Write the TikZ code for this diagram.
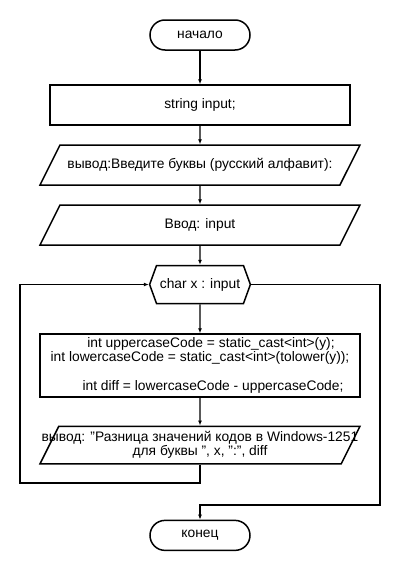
\documentclass[tikz,border=0pt]{standalone}
\usepackage{fontspec}
\setmainfont{Liberation Sans}
\usetikzlibrary{positioning, arrows.meta, shapes.geometric, shapes.symbols}

\begin{document}
\begin{tikzpicture}[x=1pt, y=-1pt,
  every node/.style={align=center, font=\fontsize{13.8}{15}\selectfont},
  arrow/.style={-{Latex[length=5pt,width=4pt]}, line width=1.2pt},
  term/.style={draw, line width=1.5pt, rounded corners=15pt, minimum width=100pt, minimum height=30pt},
  proc/.style={draw, line width=1.5pt, minimum width=300pt, minimum height=40pt},
  io/.style={draw, line width=1.5pt, trapezium, trapezium left angle=63.4, trapezium right angle=116.6,
    trapezium stretches body=true, minimum width=320pt, inner xsep=0pt,
    text height=10pt, text depth=3.5pt, inner ysep=13.25pt},
  loopbox/.style={draw, line width=1.5pt, signal, signal to=west and east, signal pointer angle=140,
    minimum width=100pt, minimum height=38pt}
]
\useasboundingbox (0,0) rectangle (400,570);

\node[term] (start) at (200,35) {начало};
\node[proc, below=33.5pt of start] (init) {string input;};
\node[io, below=18.5pt of init] (out1) {вывод:Введите буквы (русский алфавит):};
\node[io, below=18.5pt of out1] (in1) {Ввод: input};
\node[loopbox, below=19pt of in1] (loop) {char x : input};
\node[proc, below=29pt of loop, minimum width=320pt, minimum height=61pt, font=\fontsize{13.8}{12.5}\selectfont] (body)
  {\hspace*{22pt}int uppercaseCode = static\_cast<int>(y);\\
   int lowercaseCode = static\_cast<int>(tolower(y));\\[15.5pt]
   \hspace*{26pt}int diff = lowercaseCode - uppercaseCode;};
\node[io, below=28pt of body, text height={}, text depth={}, inner ysep=5.25pt,
  font=\fontsize{13.8}{14}\selectfont] (out2)
  {\makebox[250pt]{вывод: "Разница значений кодов в Windows-1251}\\
   \makebox[250pt]{для буквы ", x, ":", diff}};
\node[term, below=55pt of out2] (stop) {конец};

\coordinate (back) at (20,483);
\coordinate (exit) at (380,505);

\draw[arrow] (start) -- (init);
\draw[arrow] (init) -- (out1);
\draw[arrow] (out1) -- (in1);
\draw[arrow] (in1) -- (loop);
\draw[arrow] (loop) -- (body);
\draw[arrow] (body) -- (out2);
\draw[arrow] (out2.south) |- (back) |- (loop.west);
\draw[arrow] (loop.east) -| (exit) -| (stop.north);
\end{tikzpicture}
\end{document}
